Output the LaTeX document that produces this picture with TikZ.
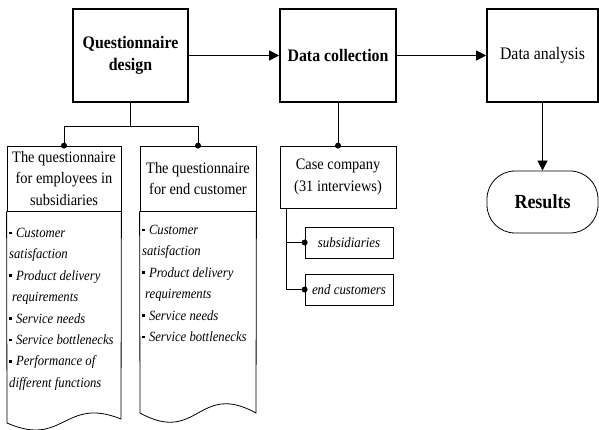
\documentclass[tikz,border=0pt]{standalone}
\usepackage{fontspec}
\setmainfont{Liberation Serif}[FakeStretch=0.9]
\usetikzlibrary{arrows.meta}
\newcommand{\sqbul}{\rule[0.22em]{2.8pt}{2.8pt}\hspace{4pt}}

\begin{document}
\begin{tikzpicture}[x=1pt,y=-1pt,
		stagebox/.style={draw,line width=1.6pt,minimum width=115pt,minimum height=93pt,align=center,inner sep=0pt,font=\fontsize{17.6}{22}\selectfont},
		headbox/.style={draw,line width=0.8pt,minimum height=65pt,align=center,inner sep=0pt,font=\fontsize{16}{21.5}\selectfont},
		tagbox/.style={draw,line width=0.8pt,minimum width=88pt,minimum height=31pt,inner sep=0pt,font=\fontsize{14.3}{15}\selectfont\itshape},
		itemtext/.style={anchor=north west,align=left,inner sep=0pt,font=\fontsize{14.1}{21.4}\selectfont\itshape},
		flow/.style={line width=0.8pt,-{Triangle[length=10pt,width=10pt]}},
		link/.style={line width=0.8pt},
		jdot/.style={circle,fill,inner sep=0pt,minimum size=6pt}]
			\useasboundingbox (0,0) rectangle (599,430);
			
			\node[stagebox] (QD) at (130.5,55.5) {\textbf{Questionnaire}\\\textbf{design}};
			\node[stagebox,minimum width=116pt] (DC) at (338,55.5) {\textbf{Data collection}};
			\node[stagebox,minimum width=111pt] (DA) at (542.5,55.5) {Data analysis};
			\node[draw,line width=0.8pt,rounded corners=28pt,minimum width=111pt,minimum height=62pt,font=\fontsize{20}{22}\selectfont\bfseries] (RS) at (542.5,202) {Results};
			
			\node[headbox,minimum width=114pt] (QE) at (64,178.5) {The questionnaire\\for employees in\\subsidiaries};
			\node[headbox,minimum width=116pt] (QC) at (198,178.5) {The questionnaire\\for end customer};
			\node[headbox,minimum width=116pt,minimum height=62pt] (CC) at (338,177) {Case company\\(31 interviews)};
			\node[tagbox] (SB) at (349,242.5) {subsidiaries};
			\node[tagbox] (EC) at (349,289.5) {end customers};
			
			\node[itemtext] (QEtxt) at (9,228) {\sqbul Customer\\satisfaction\\\sqbul Product delivery\\\hspace*{3pt}requirements\\\sqbul Service needs\\\sqbul Service bottlenecks\\\sqbul Performance of\\different functions};
			\node[itemtext] (QCtxt) at (142,225) {\sqbul Customer\\satisfaction\\\sqbul Product delivery\\\hspace*{3pt}requirements\\\sqbul Service needs\\\sqbul Service bottlenecks};
			
			\draw[link] (QE.south west) -- (7,423) .. controls (64,448) and (64,396) .. (121,419) -- (QE.south east);
			\draw[link] (QC.south west) -- (140,413) .. controls (198,445) and (198,381) .. (256,413) -- (QC.south east);
			
			\draw[flow] (QD.east) -- (DC.west);
			\draw[flow] (DC.east) -- (DA.west);
			\draw[flow] (DA.south) -- (RS.north);
			
			\coordinate (qdfork) at ([yshift=-24pt]QD.south);
			\draw[link] (QD.south) -- (qdfork) -| (QE.north);
			\draw[link] (qdfork) -| (QC.north);
			\node[jdot] (QEdot) at (QE.north) {};
			\node[jdot] (QCdot) at (QC.north) {};
			
			\draw[link] (DC.south) -- (CC.north);
			\node[jdot] (CCdot) at (CC.north) {};
			\coordinate (ccstem) at ([xshift=7pt]CC.south west);
			\draw[link] (ccstem) |- (SB.west);
			\draw[link] (ccstem) |- (EC.west);
			\node[jdot] (SBdot) at (SB.west) {};
			\node[jdot] (ECdot) at (EC.west) {};
		\end{tikzpicture}
\end{document}
